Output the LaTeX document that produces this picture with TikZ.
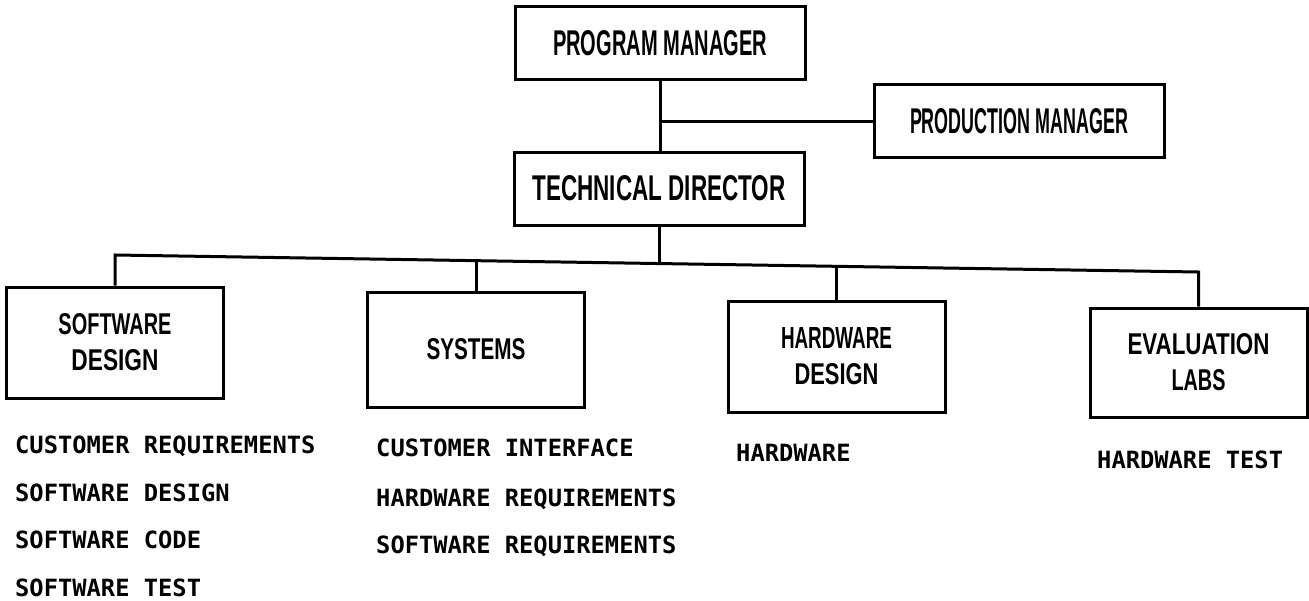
\documentclass[tikz,border=0pt]{standalone}
\usepackage{fontspec}
\usepackage{graphicx}
\usetikzlibrary{calc}
\setmainfont{Liberation Sans}
\newfontfamily\listfont{DejaVu Sans Mono}
% set one line of a box label to a given width and cap height (in pt)
\newcommand{\fitline}[3]{\resizebox{#1pt}{#2pt}{\bfseries #3}}

\begin{document}
\begin{tikzpicture}[x=1pt,y=-1pt,
  orgbox/.style={draw, line width=3pt, inner sep=0pt, align=center,
                 font=\fontsize{30pt}{36pt}\selectfont},
  topbox/.style={orgbox, minimum width=290pt, minimum height=73pt},
  lowbox/.style={orgbox, minimum width=217pt, minimum height=111pt},
  link/.style={line width=3pt},
  duty/.style={anchor=base west, inner sep=0pt,
               font=\fontsize{23.75pt}{28pt}\listfont\bfseries}]

\useasboundingbox (0,0) rectangle (1309,600);

% management chain
\node[topbox] (pm)  at (660,43)     {\fitline{214}{25}{PROGRAM MANAGER}};
\node[topbox] (td)  at (659,188.5)  {\fitline{253}{25}{TECHNICAL DIRECTOR}};
\node[topbox] (prd) at (1019,121)   {\fitline{218}{25}{PRODUCTION MANAGER}};

% departments
\node[lowbox] (sd)  at (115,342.5)  {\fitline{113}{21}{SOFTWARE}\\\fitline{87}{21}{DESIGN}};
\node[lowbox, minimum height=115pt] (sys) at (476,349.5) {\fitline{99}{21}{SYSTEMS}};
\node[lowbox] (hw)  at (836.5,356.5) {\fitline{111}{21}{HARDWARE}\\\fitline{84}{21}{DESIGN}};
\node[lowbox, minimum height=109pt] (el) at (1198.5,362.5) {\fitline{142}{21}{EVALUATION}\\\fitline{54}{21}{LABS}};

% bus points under the technical director
\coordinate (busL)  at (115,255);
\coordinate (busR)  at (1198.5,272);
\coordinate (tdbus) at (659,263.5);
\coordinate (sysbus) at (476,260.7);
\coordinate (hwbus) at (836.5,266.3);

% connectors
\draw[link] (pm.south) -- (pm.south |- td.north);
\draw[link] (pm.south |- prd.west) -- (prd.west);
\draw[link] (td.south) -- (tdbus);
\draw[link] (sd.north) -- (busL) -- (busR) -- (el.north);
\draw[link] (sysbus) -- (sys.north);
\draw[link] (hwbus) -- (hw.north);

% responsibilities under each department
\node[duty] (sd1) at (15,453.6)  {CUSTOMER REQUIREMENTS};
\node[duty] (sd2) at (15,501.6)  {SOFTWARE DESIGN};
\node[duty] (sd3) at (15,548.6)  {SOFTWARE CODE};
\node[duty] (sd4) at (15,596.6)  {SOFTWARE TEST};

\node[duty] (sy1) at (376,456.6) {CUSTOMER INTERFACE};
\node[duty] (sy2) at (376,506.6) {HARDWARE REQUIREMENTS};
\node[duty] (sy3) at (376,553.6) {SOFTWARE REQUIREMENTS};

\node[duty] (hw1) at (736,461.6) {HARDWARE};

\node[duty] (el1) at (1097,468)  {HARDWARE TEST};
\end{tikzpicture}
\end{document}
